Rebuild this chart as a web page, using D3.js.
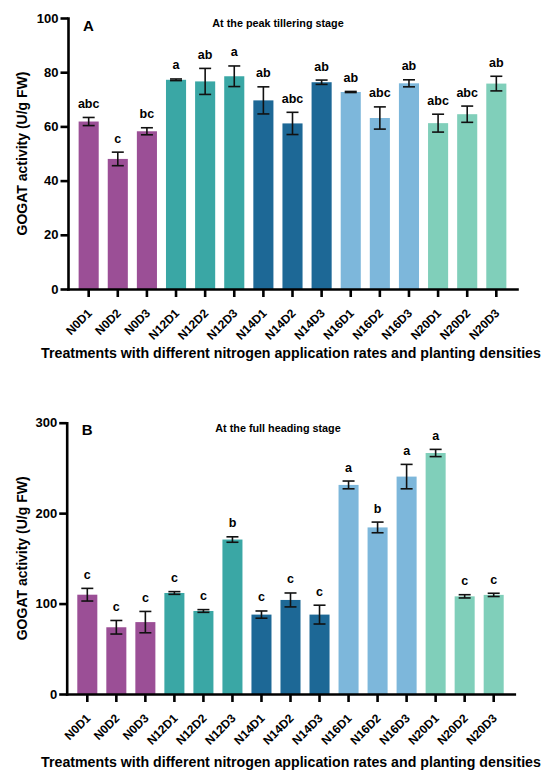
<!DOCTYPE html>
<html lang="en">
    <head>
        <meta charset="utf-8">
        <title>GOGAT activity</title>
        <script src="https://d3js.org/d3.v7.min.js"></script>
        <style>
            body { margin: 0; background: #fff; }
            text { font-family: "Liberation Sans", Arial, sans-serif; font-weight: bold; fill: #000; }
        </style>
    </head>
    <body>
        <div class="chart"></div>
        <script type="text/javascript">
            // treatments (x categories)
            const treatments = ['N0D1', 'N0D2', 'N0D3', 'N12D1', 'N12D2', 'N12D3', 'N14D1', 'N14D2', 'N14D3',
                'N16D1', 'N16D2', 'N16D3', 'N20D1', 'N20D2', 'N20D3'];
            const nitrogenGroups = ['N0', 'N0', 'N0', 'N12', 'N12', 'N12', 'N14', 'N14', 'N14',
                'N16', 'N16', 'N16', 'N20', 'N20', 'N20'];
            const groupColors = {N0: '#9b4f96', N12: '#3aa7a5', N14: '#1d6896', N16: '#7db7db', N20: '#80cfba'};

            // A: peak tillering stage
            const tilleringMeans = [61.8, 48.0, 58.2, 77.2, 76.6, 78.5, 69.6, 61.1, 76.3, 72.7, 63.1, 75.9, 61.2, 64.5, 75.8];
            const tilleringErrors = [1.5, 2.5, 1.3, 0.3, 4.8, 3.8, 5.0, 4.1, 0.8, 0.2, 4.1, 1.3, 3.3, 3.0, 2.7];
            const tilleringLetters = ['abc', 'c', 'bc', 'a', 'ab', 'a', 'ab', 'abc', 'ab', 'ab', 'abc', 'ab', 'abc', 'abc', 'ab'];
            const tilleringTicks = [0, 20, 40, 60, 80, 100];

            // B: full heading stage
            const headingMeans = [109.8, 73.8, 79.5, 111.7, 91.8, 170.8, 87.8, 104.0, 87.8, 231.2, 184.2, 240.4, 266.5, 108.0, 109.6];
            const headingErrors = [7.0, 7.5, 11.8, 1.5, 1.5, 3.0, 4.0, 7.7, 10.4, 4.3, 5.9, 13.5, 4.0, 1.8, 1.8];
            const headingLetters = ['c', 'c', 'c', 'c', 'c', 'b', 'c', 'c', 'c', 'a', 'b', 'a', 'a', 'c', 'c'];
            const headingTicks = [0, 100, 200, 300];

            const width = 550;
            const height = 772;
            const svg = d3.select('.chart')
                .append('svg')
                .attr('width', width)
                .attr('height', height);

            function drawPanel(p) {
                const data = treatments.map((t, i) => ({
                    name: t, group: nitrogenGroups[i], mean: p.means[i], err: p.errors[i], letter: p.letters[i]
                }));

                const x = d3.scaleBand()
                    .domain(treatments)
                    .range([p.left, p.right])
                    .paddingInner(0.31)
                    .paddingOuter(0.365);
                const y = d3.scaleLinear()
                    .domain([0, p.max])
                    .range([p.bottom, p.top]);

                const g = svg.append('g');

                g.selectAll('rect')
                    .data(data)
                    .enter()
                    .append('rect')
                    .attr('x', d => x(d.name))
                    .attr('y', d => y(d.mean))
                    .attr('width', x.bandwidth())
                    .attr('height', d => y(0) - y(d.mean))
                    .attr('fill', d => groupColors[d.group]);

                // error bars
                const cap = 6;
                const eb = g.selectAll('.err')
                    .data(data)
                    .enter()
                    .append('g')
                    .attr('stroke', '#111')
                    .attr('stroke-width', 1.6);
                eb.append('line')
                    .attr('x1', d => x(d.name) + x.bandwidth() / 2)
                    .attr('x2', d => x(d.name) + x.bandwidth() / 2)
                    .attr('y1', d => y(d.mean + d.err))
                    .attr('y2', d => y(d.mean - d.err));
                eb.append('line')
                    .attr('x1', d => x(d.name) + x.bandwidth() / 2 - cap)
                    .attr('x2', d => x(d.name) + x.bandwidth() / 2 + cap)
                    .attr('y1', d => y(d.mean + d.err))
                    .attr('y2', d => y(d.mean + d.err));
                eb.append('line')
                    .attr('x1', d => x(d.name) + x.bandwidth() / 2 - cap)
                    .attr('x2', d => x(d.name) + x.bandwidth() / 2 + cap)
                    .attr('y1', d => y(d.mean - d.err))
                    .attr('y2', d => y(d.mean - d.err));

                // significance letters
                g.selectAll('.letter')
                    .data(data)
                    .enter()
                    .append('text')
                    .attr('x', d => x(d.name) + x.bandwidth() / 2)
                    .attr('y', d => y(d.mean + d.err) - 9.5)
                    .attr('text-anchor', 'middle')
                    .style('font-size', '12.5px')
                    .text(d => d.letter);

                // axes
                const yAxis = g.append('g')
                    .attr('transform', `translate(${p.left},0)`)
                    .call(d3.axisLeft(y).tickValues(p.ticks).tickSize(7.5).tickSizeOuter(0).tickPadding(2));
                const xAxis = g.append('g')
                    .attr('transform', `translate(0,${p.bottom})`)
                    .call(d3.axisBottom(x).tickSize(8).tickSizeOuter(0).tickFormat(''));
                [yAxis, xAxis].forEach(a => {
                    a.selectAll('path, line').attr('stroke', '#000').attr('stroke-width', 2.6);
                    a.select('path').attr('stroke-linecap', 'square');
                });
                yAxis.selectAll('text')
                    .style('font-size', '13px')
                    .style('font-family', '"Liberation Sans", Arial, sans-serif')
                    .style('font-weight', 'bold')
                    .attr('fill', '#000');

                // rotated treatment labels
                g.selectAll('.xlabel')
                    .data(treatments)
                    .enter()
                    .append('text')
                    .attr('transform', d => `translate(${x(d) + x.bandwidth() / 2 + 4},${p.bottom + 25}) rotate(-45)`)
                    .attr('text-anchor', 'end')
                    .style('font-size', '12px')
                    .text(d => d);

                // axis titles
                g.append('text')
                    .attr('transform', `translate(${p.yTitleX},${(p.top + p.bottom) / 2}) rotate(-90)`)
                    .attr('text-anchor', 'middle')
                    .style('font-size', '14px')
                    .text('GOGAT activity (U/g FW)');
                g.append('text')
                    .attr('x', 291)
                    .attr('y', p.xTitleY)
                    .attr('text-anchor', 'middle')
                    .style('font-size', '14.2px')
                    .text('Treatments with different nitrogen application rates and planting densities');

                // panel letter and stage
                g.append('text')
                    .attr('x', p.left + 15)
                    .attr('y', p.top + 12.5)
                    .style('font-size', '15px')
                    .text(p.panel);
                g.append('text')
                    .attr('x', 278)
                    .attr('y', p.top + 9)
                    .attr('text-anchor', 'middle')
                    .style('font-size', '10.8px')
                    .text(p.stage);
            }

            drawPanel({
                panel: 'A', stage: 'At the peak tillering stage',
                means: tilleringMeans, errors: tilleringErrors, letters: tilleringLetters,
                ticks: tilleringTicks, max: 100,
                left: 68, right: 517, top: 18, bottom: 289, yTitleX: 27, xTitleY: 358
            });

            drawPanel({
                panel: 'B', stage: 'At the full heading stage',
                means: headingMeans, errors: headingErrors, letters: headingLetters,
                ticks: headingTicks, max: 300,
                left: 66.7, right: 514.3, top: 422.7, bottom: 694, yTitleX: 27, xTitleY: 767
            });
        </script>
    </body>
</html>
